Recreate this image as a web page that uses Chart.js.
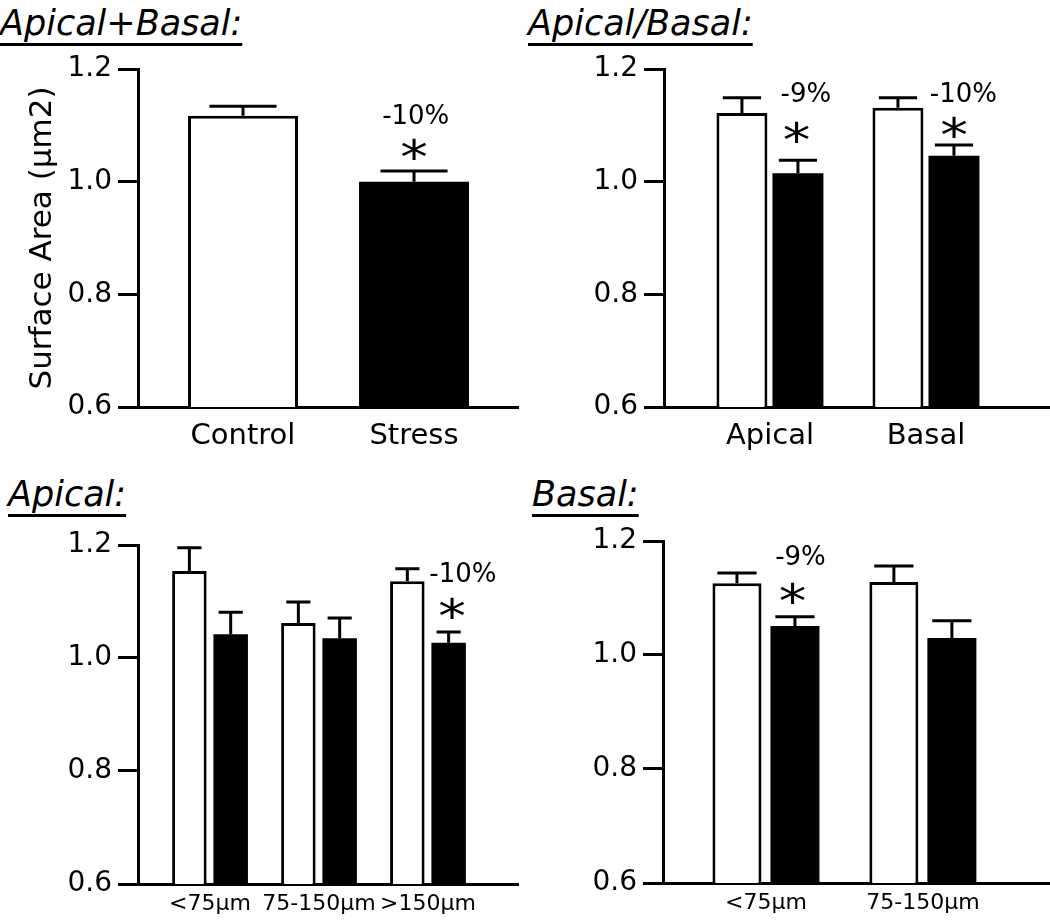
<!DOCTYPE html>
<html>
<head>
<meta charset="utf-8">
<script src="https://cdn.jsdelivr.net/npm/chart.js@4/dist/chart.umd.min.js"></script>
<style>
    body { margin: 0; background: #fff; }
    #page { position: relative; width: 1050px; height: 921px; background: #fff; overflow: hidden; }
    canvas { position: absolute; }
    .panel-title {
        position: absolute;
        font: italic 35px "DejaVu Sans";
        line-height: 35px;
        color: #000;
        white-space: nowrap;
        text-decoration: underline;
        text-decoration-thickness: 3px;
        text-underline-offset: 8px;
    }
</style>
</head>
<body>
<div id="page">
    <div class="panel-title" style="left:0px;top:6px">Apical+Basal:</div>
    <div class="panel-title" style="left:528px;top:6px">Apical/Basal:</div>
    <div class="panel-title" style="left:8px;top:477px">Apical:</div>
    <div class="panel-title" style="left:532px;top:477px">Basal:</div>

    <canvas id="overallChart" width="520" height="460" style="left:0px;top:0px"></canvas>
    <canvas id="regionChart" width="530" height="460" style="left:520px;top:0px"></canvas>
    <canvas id="apicalChart" width="520" height="461" style="left:0px;top:460px"></canvas>
    <canvas id="basalChart" width="530" height="461" style="left:520px;top:460px"></canvas>
</div>

<script>
// values (bar mean and upper error)
const overallCategories = ['Control', 'Stress']
const overallMeans = [1.117, 1.000]
const overallErrors = [0.017, 0.019]
const overallNotes = ['-10%', '*']

const regionCategories = ['Apical', 'Basal']
const regionControl = [1.122, 1.131]
const regionControlErr = [0.027, 0.018]
const regionStress = [1.015, 1.046]
const regionStressErr = [0.023, 0.019]
const regionNotes = ['-9%', '-10%', '*']

const apicalCategories = ['<75µm', '75-150µm', '>150µm']
const apicalControl = [1.154, 1.062, 1.136]
const apicalControlErr = [0.041, 0.037, 0.022]
const apicalStress = [1.042, 1.035, 1.027]
const apicalStressErr = [0.039, 0.036, 0.019]
const apicalNotes = ['-10%', '*']

const basalCategories = ['<75µm', '75-150µm']
const basalControl = [1.126, 1.128]
const basalControlErr = [0.018, 0.028]
const basalStress = [1.051, 1.030]
const basalStressErr = [0.016, 0.030]
const basalNotes = ['-9%', '*']

const yTicks = [0.6, 0.8, 1.0, 1.2]
const yAxisTitle = 'Surface Area (µm2)'

const FONT = '"DejaVu Sans"'

function errorBarsPlugin(capRatio){
    return {
        id: 'errorBars',
        afterDatasetsDraw(chart){
            const {ctx, scales: {y}} = chart
            ctx.save()
            ctx.strokeStyle = '#000'
            ctx.lineWidth = 3
            chart.data.datasets.forEach((dataset, di) => {
                chart.getDatasetMeta(di).data.forEach((bar, i) => {
                    const top = y.getPixelForValue(dataset.data[i].y + dataset.errors[i])
                    const half = bar.width * capRatio / 2
                    ctx.beginPath()
                    ctx.moveTo(bar.x, bar.y)
                    ctx.lineTo(bar.x, top)
                    ctx.moveTo(bar.x - half, top)
                    ctx.lineTo(bar.x + half, top)
                    ctx.stroke()
                })
            })
            ctx.restore()
        }
    }
}

// percent change and significance star, placed in data units
function notesPlugin(items){
    return {
        id: 'notes',
        afterDatasetsDraw(chart){
            const {ctx, scales: {x, y}} = chart
            ctx.fillStyle = '#000'
            ctx.textAlign = 'center'
            items.forEach(item => {
                const px = x.getPixelForValue(item.x)
                const py = y.getPixelForValue(item.y)
                ctx.save()
                if(item.text === '*'){
                    ctx.font = `46px ${FONT}`
                    ctx.textBaseline = 'alphabetic'
                    ctx.translate(px, py + 0.55 * 46)
                    ctx.scale(1.2, 1)
                    ctx.fillText(item.text, 0, 0)
                } else {
                    ctx.font = `26px ${FONT}`
                    ctx.textBaseline = 'middle'
                    ctx.fillText(item.text, px, py)
                }
                ctx.restore()
            })
        }
    }
}

function renderPanel(canvasId, setup){
    const datasets = setup.series.map(s => ({
        data: s.values.map((v, i) => ({x: i + 1, y: v})),
        errors: s.errors,
        backgroundColor: s.fill,
        borderColor: '#000',
        borderWidth: s.border,
        borderSkipped: 'start',
        categoryPercentage: setup.categoryPercentage,
        barPercentage: setup.barPercentage
    }))

    return new Chart(document.getElementById(canvasId), {
        type: 'bar',
        data: {datasets},
        plugins: [errorBarsPlugin(setup.cap), notesPlugin(setup.notes)],
        options: {
            responsive: false,
            animation: false,
            events: [],
            layout: {
                padding: {top: setup.top, left: 0, right: setup.right, bottom: 0}
            },
            plugins: {
                legend: {display: false},
                tooltip: {enabled: false}
            },
            scales: {
                x: {
                    type: 'linear',
                    min: setup.xMin,
                    max: setup.xMax,
                    offset: false,
                    z: 1,
                    grid: {display: false, drawTicks: false},
                    border: {display: true, color: '#000', width: 3},
                    ticks: {
                        color: '#000',
                        font: {family: FONT, size: setup.xFont},
                        padding: setup.xPad,
                        maxRotation: 0,
                        autoSkip: false,
                        callback: (value, index) => setup.categories[index]
                    },
                    afterBuildTicks: scale => {
                        scale.ticks = setup.categories.map((c, i) => ({value: i + 1}))
                    },
                    afterFit: scale => {
                        scale.height = setup.xHeight
                    }
                },
                y: {
                    type: 'linear',
                    min: 0.6,
                    max: 1.2,
                    beginAtZero: false,
                    z: 1,
                    grid: {
                        drawOnChartArea: false,
                        color: '#000',
                        tickColor: '#000',
                        lineWidth: 3,
                        tickWidth: 3,
                        tickLength: 20
                    },
                    border: {display: true, color: '#000', width: 3},
                    ticks: {
                        color: '#000',
                        font: {family: FONT, size: 28},
                        padding: 6,
                        callback: value => value.toFixed(1)
                    },
                    afterBuildTicks: scale => {
                        scale.ticks = yTicks.map(value => ({value}))
                    },
                    afterFit: scale => {
                        scale.width = setup.yWidth
                    },
                    title: {
                        display: !!setup.yTitle,
                        text: setup.yTitle || '',
                        color: '#000',
                        font: {family: FONT, size: 31},
                        padding: {top: 24, bottom: 0}
                    }
                }
            }
        }
    })
}

document.addEventListener('DOMContentLoaded', () => {
    renderPanel('overallChart', {
        categories: overallCategories,
        series: [{values: overallMeans, errors: overallErrors, fill: ['#fff', '#000'], border: [3, 0]}],
        xMin: 0.386, xMax: 2.608,
        top: 69, right: 2, yWidth: 138, xHeight: 53,
        xFont: 29, xPad: 12,
        categoryPercentage: 1, barPercentage: 0.643,
        cap: 0.61,
        yTitle: yAxisTitle,
        notes: [
            {text: overallNotes[0], x: 2.01, y: 1.115},
            {text: overallNotes[1], x: 2.0, y: 1.060}
        ]
    })

    renderPanel('regionChart', {
        categories: regionCategories,
        series: [
            {values: regionControl, errors: regionControlErr, fill: '#fff', border: 3},
            {values: regionStress, errors: regionStressErr, fill: '#000', border: 0}
        ],
        xMin: 0.321, xMax: 2.795,
        top: 69, right: 0, yWidth: 144, xHeight: 53,
        xFont: 29, xPad: 12,
        categoryPercentage: 0.718, barPercentage: 0.91,
        cap: 0.75,
        notes: [
            {text: regionNotes[0], x: 1.23, y: 1.154},
            {text: regionNotes[2], x: 1.17, y: 1.090},
            {text: regionNotes[1], x: 2.24, y: 1.154},
            {text: regionNotes[2], x: 2.18, y: 1.099}
        ]
    })

    renderPanel('apicalChart', {
        categories: apicalCategories,
        series: [
            {values: apicalControl, errors: apicalControlErr, fill: '#fff', border: 3},
            {values: apicalStress, errors: apicalStressErr, fill: '#000', border: 0}
        ],
        xMin: 0.339, xMax: 3.826,
        top: 85, right: 2, yWidth: 138, xHeight: 37,
        xFont: 22, xPad: 7,
        categoryPercentage: 0.758, barPercentage: 0.835,
        cap: 0.7,
        notes: [
            {text: apicalNotes[0], x: 3.32, y: 1.147},
            {text: apicalNotes[1], x: 3.22, y: 1.090}
        ]
    })

    renderPanel('basalChart', {
        categories: basalCategories,
        series: [
            {values: basalControl, errors: basalControlErr, fill: '#fff', border: 3},
            {values: basalStress, errors: basalStressErr, fill: '#000', border: 0}
        ],
        xMin: 0.344, xMax: 2.81,
        top: 81, right: 0, yWidth: 143, xHeight: 38,
        xFont: 22, xPad: 7,
        categoryPercentage: 0.739, barPercentage: 0.845,
        cap: 0.8,
        notes: [
            {text: basalNotes[0], x: 1.22, y: 1.170},
            {text: basalNotes[1], x: 1.17, y: 1.111}
        ]
    })
})
</script>
</body>
</html>
